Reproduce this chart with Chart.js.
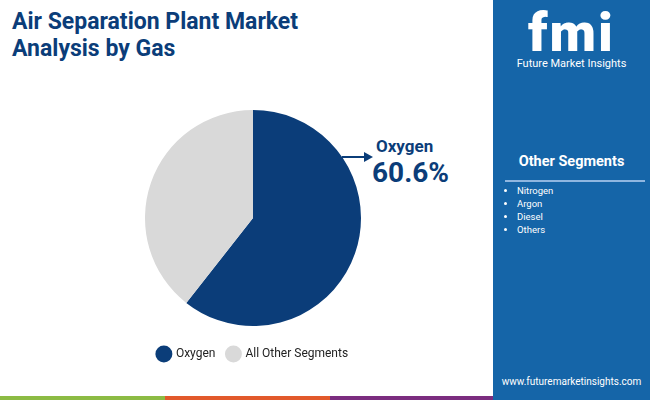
<!DOCTYPE html>
<html><head><meta charset="utf-8">
<script src="https://cdn.jsdelivr.net/npm/chart.js@4"></script>
<style>
body{margin:0;width:650px;height:400px;position:relative;overflow:hidden;background:#fff;font-family:Roboto,sans-serif}
.a{position:absolute}
#title{left:12px;top:8px;font-size:23px;font-weight:700;color:#0b3d79;line-height:27px}
#panel{left:493px;top:0;width:157px;height:400px;background:#1565a8}
#logo{left:0;top:8px;width:157px;text-align:center;color:#fff;font-weight:900;font-size:54px;letter-spacing:2px;line-height:50px}
#fmt{left:0;top:57px;width:157px;text-align:center;color:#fff;font-size:11px}
#os{left:0;top:153px;width:157px;text-align:center;color:#fff;font-weight:700;font-size:14.5px}
#line{left:12px;top:180px;width:140px;height:2px;background:#8fb6e0}
ul{position:absolute;left:12px;top:184px;margin:0;padding-left:12px;color:#fff;font-size:9.5px;line-height:13px}
#web{left:0;top:376px;width:157px;text-align:center;color:#fff;font-size:10px}
#ox{left:376px;top:136px;color:#0b3d79;font-weight:700;font-size:17px}
#pct{left:372px;top:156px;color:#0b3d79;font-weight:700;font-size:28px}
</style></head><body>
<div id="title" class="a">Air Separation Plant Market<br>Analysis by Gas</div>
<div id="panel" class="a">
<div id="logo" class="a">fmi</div>
<div id="fmt" class="a">Future Market Insights</div>
<div id="os" class="a">Other Segments</div>
<div id="line" class="a"></div>
<ul id="list"></ul>
<div id="web" class="a">www.futuremarketinsights.com</div>
</div>
<div class="a" style="left:0;top:396px;width:165px;height:4px;background:#8cbb44"></div>
<div class="a" style="left:165px;top:396px;width:165px;height:4px;background:#e2592b"></div>
<div class="a" style="left:330px;top:396px;width:163px;height:4px;background:#7b2d7f"></div>
<svg class="a" style="left:340px;top:150px" width="34" height="14"><line x1="2" y1="7" x2="26" y2="7" stroke="#0b3d79" stroke-width="2"/><polygon points="24,2 33,7 24,12" fill="#0b3d79"/></svg>
<div id="ox" class="a">Oxygen</div>
<div id="pct" class="a">60.6%</div>
<div class="a" style="left:145px;top:100px;width:216px;height:270px"><canvas id="c"></canvas></div>
<script>
const categories=["Oxygen","All Other Segments"];
const shares=[60.6,39.4];
const colors=["#0b3d79","#d9d9d9"];
const otherSegments=["Nitrogen","Argon","Diesel","Others"];
document.getElementById('list').innerHTML=otherSegments.map(s=>'<li>'+s+'</li>').join('');
new Chart(document.getElementById('c'),{type:'pie',
data:{labels:categories,datasets:[{data:shares,backgroundColor:colors,borderWidth:0}]},
options:{responsive:true,maintainAspectRatio:false,animation:false,
plugins:{tooltip:{enabled:false},legend:{position:'bottom',labels:{usePointStyle:true,pointStyle:'circle',boxWidth:14,boxHeight:14,padding:12,color:'#222',font:{family:'Roboto',size:12}}}}}});
</script>
</body></html>
